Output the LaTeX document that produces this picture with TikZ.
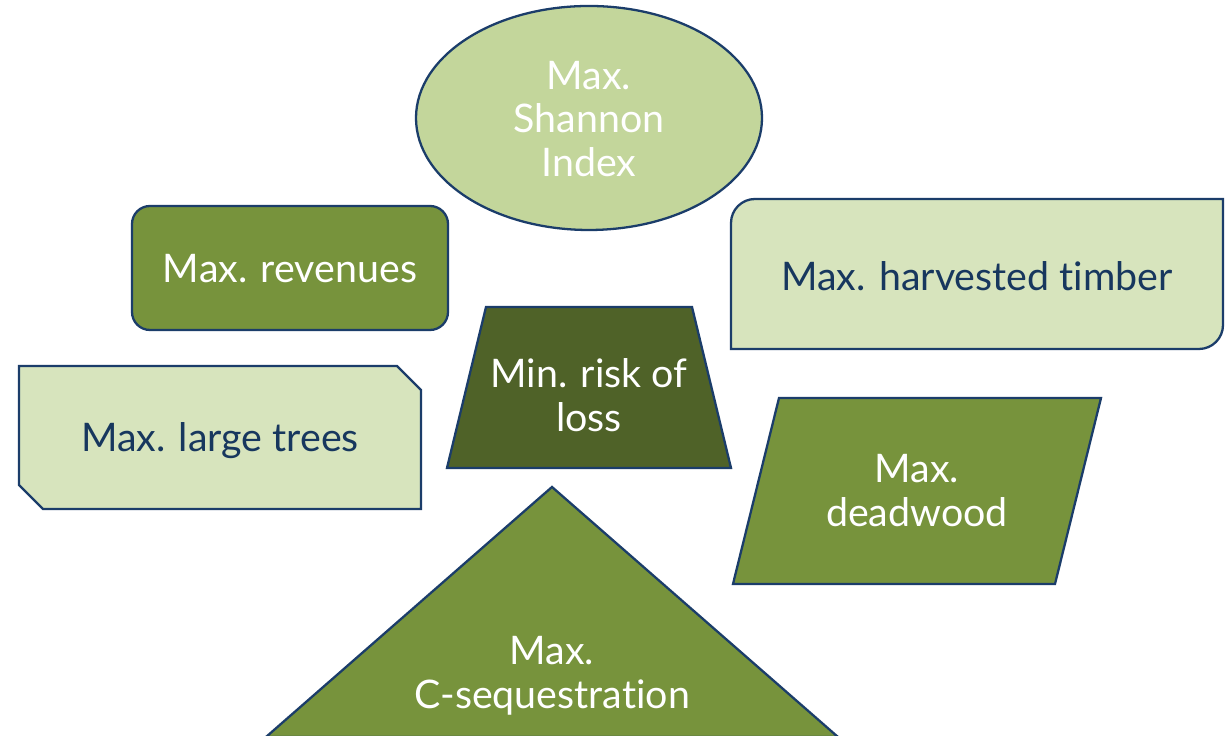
\documentclass[tikz,border=0pt]{standalone}
\usepackage{fontspec}
\setmainfont{Lato}[Ligatures=NoCommon]
\usepackage{tikz}
\usetikzlibrary{positioning}
\definecolor{navy}{HTML}{1B3D6A}
\definecolor{inkblue}{HTML}{17375E}
\definecolor{pale}{HTML}{D7E4BD}
\definecolor{sage}{HTML}{C3D69B}
\definecolor{midgreen}{HTML}{77933C}
\definecolor{darkgreen}{HTML}{4F6228}
\tikzset{
  shp/.style={draw=navy, line width=1.3pt, line join=miter},
  fillpale/.style={fill=pale},
  fillsage/.style={fill=sage},
  fillmid/.style={fill=midgreen},
  filldark/.style={fill=darkgreen},
  txt/.style={align=center, inner sep=0pt, font=\fontsize{22.4}{25}\selectfont},
  wtxt/.style={txt, text=white},
  btxt/.style={txt, text=inkblue},
}
\begin{document}
\begin{tikzpicture}[x=0.2mm, y=0.2mm]
    \useasboundingbox[fill=white] (0,0) rectangle (1225,736);
    % shapes
    \draw[shp,fillsage] (589,618) ellipse [x radius=34.6mm, y radius=22.4mm];
    \draw[shp,fillmid,rounded corners=3.6mm] (132,406) rectangle (448,530);
    \draw[shp,fillpale] (731,387) -- (731,513)
      arc[start angle=180, end angle=90, radius=4.8mm] -- (1223,537)
      -- (1223,411) arc[start angle=0, end angle=-90, radius=4.8mm] -- cycle;
    \draw[shp,fillpale] (19,370) -- (397,370) -- (421,346) -- (421,227)
      -- (43,227) -- (19,251) -- cycle;
    \draw[shp,filldark] (486,429) -- (692,429) -- (731,268) -- (447,268) -- cycle;
    \draw[shp,fillmid] (779,338) -- (1101,338) -- (1055,152) -- (733,152) -- cycle;
    \draw[shp,fillmid] (552,249) -- (838,-1) -- (266,-1) -- cycle;
    % labels
    \node[wtxt] (shannon) at (589,617) {Max.\\Shannon\\Index};
    \node[wtxt] (revenues) at (290,467) {Max. revenues};
    \node[btxt] (timber) at (977,460) {Max. harvested timber};
    \node[btxt] (trees) at (220,295) {Max. large trees};
    \node[wtxt] (risk) at (589,341) {Min. risk of\\loss};
    \node[wtxt] (deadwood) at (917,245) {Max.\\deadwood};
    \node[wtxt] (carbon) at (552,60) {Max.\\C-sequestration};
\end{tikzpicture}
\end{document}
